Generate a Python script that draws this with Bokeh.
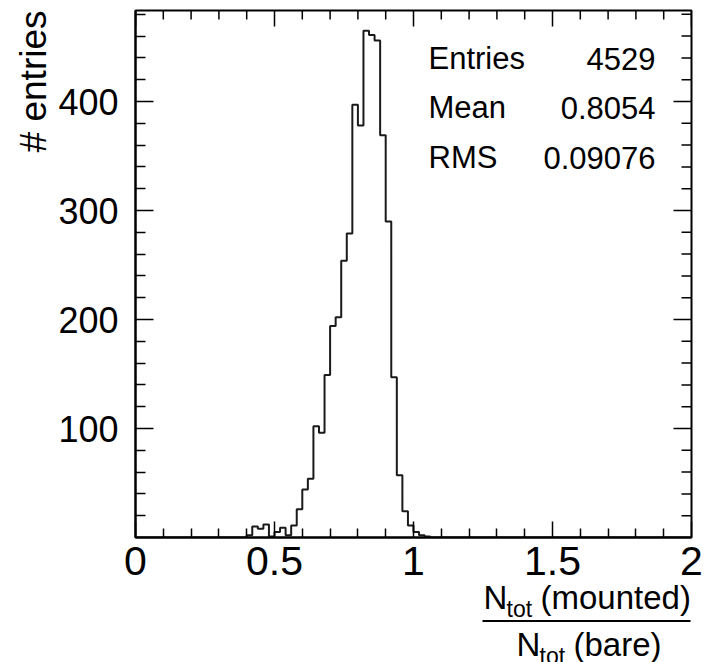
import numpy as np
from bokeh.plotting import figure
from bokeh.layouts import column
from bokeh.models import FixedTicker, LinearAxis, Range1d, Title, Label
from bokeh.core.properties import value
from bokeh.embed import file_html
from bokeh.resources import INLINE

# ---- data ----
bin_width = 0.02
x_min, x_max = 0.0, 2.0
first_bin = 0.40
counts = [2, 10, 8, 12, 1, 5, 9, 2, 11, 26, 44, 54, 102, 96, 149, 194, 202,
          254, 279, 397, 378, 465, 461, 456, 369, 290, 147, 57, 24, 11, 5, 2, 1]
stat_names = ["Entries", "Mean", "RMS"]
stat_values = ["4529", "0.8054", "0.09076"]
x_major = [0, 0.5, 1, 1.5, 2]
y_major = [100, 200, 300, 400]
y_top = 483.5

# full histogram over 0..2
nbins = int(round((x_max - x_min) / bin_width))
edges = [round(x_min + i * bin_width, 4) for i in range(nbins + 1)]
full = [0] * nbins
start = int(round((first_bin - x_min) / bin_width))
for i, c in enumerate(counts):
    full[start + i] = c
step_x = edges
step_y = full + [full[-1]]

FONT = "Liberation Sans"

W, H = 707, 662
FL, FR, FT, FB = 135, 691, 10, 537
p = figure(width=W, height=H, output_backend="svg", toolbar_location=None,
           x_range=Range1d(x_min, x_max), y_range=Range1d(0, y_top),
           x_axis_location=None, y_axis_location=None,
           min_border_left=FL, min_border_right=W - FR,
           min_border_top=FT, min_border_bottom=H - FB)
p.grid.visible = False
p.outline_line_color = "black"
p.outline_line_width = 2
p.background_fill_color = "white"
p.border_fill_color = "white"

x_minor = [round(0.1 * i, 2) for i in range(1, 20) if i % 5 != 0]
y_minor = [v for v in range(20, 481, 20) if v % 100 != 0]
xt = FixedTicker(ticks=x_major, minor_ticks=x_minor)
yt = FixedTicker(ticks=y_major, minor_ticks=y_minor)

XMAJ, XMIN, YMAJ, YMIN = 16, 9, 18, 10


def style(ax, major_len, minor_len, size):
    ax.axis_line_color = "black"
    ax.axis_line_width = 2
    ax.major_tick_in = major_len
    ax.major_tick_out = 0
    ax.minor_tick_in = minor_len
    ax.minor_tick_out = 0
    ax.major_tick_line_width = 1.5
    ax.minor_tick_line_width = 1.5
    ax.major_tick_line_color = "black"
    ax.minor_tick_line_color = "black"
    ax.major_label_text_font = FONT
    ax.major_label_text_font_size = size
    ax.major_label_text_color = "black"


bx = LinearAxis(ticker=xt, major_label_overrides={0: "0", 1: "1", 2: "2"})
style(bx, XMAJ, XMIN, "41px")
bx.major_label_standoff = 9
p.add_layout(bx, "below")

ly = LinearAxis(ticker=yt)
style(ly, YMAJ, YMIN, "36px")
ly.major_label_standoff = 17
p.add_layout(ly, "left")

# y-axis title, placed at the top end of the axis
p.add_layout(Title(text="# entries", align="right", text_font=FONT,
                   text_font_size="37px", text_font_style="normal",
                   text_color="black", standoff=3), "left")

# mirrored ticks on the top and right edges (from the same tick lists)
px_y = y_top / (FB - FT)
px_x = (x_max - x_min) / (FR - FL)
p.segment(x0=x_major, y0=[y_top - XMAJ * px_y] * len(x_major),
          x1=x_major, y1=[y_top] * len(x_major), line_color="black", line_width=1.5)
p.segment(x0=x_minor, y0=[y_top - XMIN * px_y] * len(x_minor),
          x1=x_minor, y1=[y_top] * len(x_minor), line_color="black", line_width=1.5)
p.segment(x0=[x_max - YMAJ * px_x] * len(y_major), y0=y_major,
          x1=[x_max] * len(y_major), y1=y_major, line_color="black", line_width=1.5)
p.segment(x0=[x_max - YMIN * px_x] * len(y_minor), y0=y_minor,
          x1=[x_max] * len(y_minor), y1=y_minor, line_color="black", line_width=1.5)

# histogram outline
p.step(step_x, step_y, mode="after", line_color="#1a1a1a", line_width=2)


def dx(sx):
    return x_min + (sx - FL) / (FR - FL) * (x_max - x_min)


def dy(sy):
    return (FB - sy) / (FB - FT) * y_top


# stats box text
row_y = [58, 107, 157]
for name, val, sy in zip(stat_names, stat_values, row_y):
    p.add_layout(Label(x=dx(428), y=dy(sy), text=name, text_font=FONT,
                       text_font_size="31px", text_color="black",
                       text_align="left", text_baseline="middle"))
    p.add_layout(Label(x=dx(655), y=dy(sy), text=val, text_font=FONT,
                       text_font_size="31px", text_color="black",
                       text_align="right", text_baseline="middle"))

# ---- x-axis title (fraction), drawn in a transparent strip laid over the bottom ----
SH = 90
top0 = H - SH
f2 = figure(width=W, height=SH, output_backend="svg", toolbar_location=None,
            x_range=Range1d(FL, FR), y_range=Range1d(SH, 0),
            x_axis_location=None, y_axis_location=None,
            min_border_left=FL, min_border_right=W - FR, min_border_top=0,
            min_border_bottom=0)
f2.grid.visible = False
f2.outline_line_color = None
f2.background_fill_color = None
f2.border_fill_color = None
f2.margin = (-SH, 0, 0, 0)

parts_x = [483, 506, 540, 516, 539, 573]
parts_y = [597, 608, 597, 644, 655, 644]
parts_t = ["N", "tot", "(mounted)", "N", "tot", "(bare)"]
parts_s = ["33px", "23px", "33px", "33px", "23px", "33px"]
for sx, sy, t, s in zip(parts_x, parts_y, parts_t, parts_s):
    f2.text(x=[sx], y=[sy - top0], text=[t], text_font=value(FONT),
            text_font_size=s, text_color="black", text_align="left",
            text_baseline="alphabetic")
f2.segment(x0=[482], y0=[620.5 - top0], x1=[690], y1=[620.5 - top0],
           line_color="black", line_width=2)

layout = column(p, f2, spacing=0)
open("out.html", "w").write(file_html(layout, INLINE))
